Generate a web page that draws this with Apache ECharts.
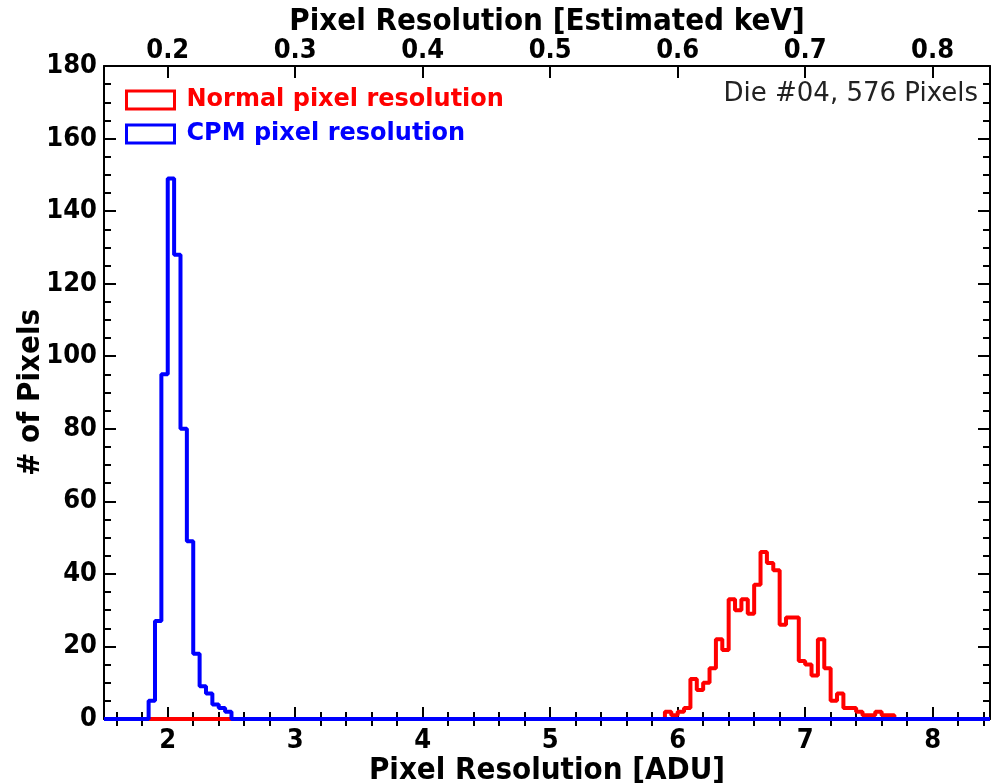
<!DOCTYPE html>
<html>
<head>
<meta charset="utf-8">
<script src="https://cdn.jsdelivr.net/npm/echarts@6/dist/echarts.min.js"></script>
<style>html,body{margin:0;padding:0;background:#fff}#chart{width:998px;height:784px}</style>
</head>
<body>
<div id="chart"></div>
<script>
// ---- data ----
const binWidth = 0.05;
const cpmStart = 1.85;
const cpmCounts = [5, 27, 95, 149, 128, 80, 49, 18, 9, 7, 4, 3, 2];
const normalStart = 5.90;
const normalCounts = [2, 1, 2, 3, 11, 8, 10, 14, 22, 19, 33, 30, 33, 29, 37, 46, 43, 41, 26, 28, 28, 16, 15, 12, 22, 14, 5, 7, 3, 3, 2, 1, 1, 2, 1, 1];
const xMin = 1.5, xMax = 8.45;
const bottomTicks = [2, 3, 4, 5, 6, 7, 8];
const topTicks = [0.2, 0.3, 0.4, 0.5, 0.6, 0.7, 0.8];
const adcToKev = 0.1;
const yTicksMax = 180, yInterval = 20;
const seriesNames = ['Normal pixel resolution', 'CPM pixel resolution'];
const annotation = 'Die #04, 576 Pixels';

function stepData(start, counts) {
  const pts = [[xMin, 0]];
  counts.forEach((c, i) => pts.push([+(start + i * binWidth).toFixed(4), c]));
  pts.push([+(start + counts.length * binWidth).toFixed(4), 0]);
  pts.push([xMax, 0]);
  return pts;
}
function minorList(lo, hi, step, majors) {
  const out = [];
  for (let v = lo; v <= hi + 1e-9; v += step) {
    const r = +v.toFixed(4);
    if (!majors.some(m => Math.abs(m - r) < 1e-6)) out.push(r);
  }
  return out;
}
const bottomMinor = minorList(1.6, 8.4, 0.2, bottomTicks);
const topMinor = minorList(0.16, 0.84, 0.02, topTicks);

const FONT = 'DejaVu Sans';
const CFONT = '"DejaVu Sans Condensed", "DejaVu Sans"';
const black = '#000';
const lab = { fontFamily: CFONT, fontWeight: 'bold', fontSize: 27, color: black };
const nameStyle = { fontFamily: CFONT, fontWeight: 'bold', fontSize: 31, color: black };

function xAx(opts) {
  return Object.assign({
    type: 'value', min: xMin, max: xMax, splitLine: { show: false }, nameMoveOverlap: false,
    axisLine: { show: true, onZero: false, lineStyle: { color: black, width: 2 } }
  }, opts);
}

const chart = echarts.init(document.getElementById('chart'), null, { renderer: 'canvas' });
chart.setOption({
  animation: false,
  backgroundColor: '#fff',
  grid: { left: 104, right: 8, top: 66, bottom: 65, containLabel: false, outerBoundsMode: 'none' },
  title: {
    text: annotation, right: 20, top: 81, padding: 0,
    textStyle: { fontFamily: FONT, fontWeight: 'normal', fontSize: 26, color: '#222' }
  },
  legend: {
    orient: 'vertical', left: 125, top: 88, itemWidth: 48, itemHeight: 18, itemGap: 10,
    padding: 0, selectedMode: false,
    textStyle: { fontFamily: FONT, fontWeight: 'bold', fontSize: 24, padding: [0, 0, 0, 7] },
    data: [
      { name: seriesNames[0], icon: 'rect', itemStyle: { color: 'transparent', borderColor: '#ff0000', borderWidth: 3 }, textStyle: { color: '#ff0000' } },
      { name: seriesNames[1], icon: 'rect', itemStyle: { color: 'transparent', borderColor: '#0000ff', borderWidth: 3 }, textStyle: { color: '#0000ff' } }
    ]
  },
  xAxis: [
    xAx({
      position: 'bottom',
      axisTick: { show: true, inside: true, length: 12, lineStyle: { color: black, width: 2 }, customValues: bottomTicks },
      axisLabel: Object.assign({ margin: 8, customValues: bottomTicks }, lab),
      name: 'Pixel Resolution [ADU]', nameLocation: 'middle', nameGap: 36, nameTextStyle: nameStyle
    }),
    xAx({
      position: 'bottom', axisLine: { show: false },
      axisTick: { show: true, inside: true, length: 7, lineStyle: { color: black, width: 2 }, customValues: bottomMinor },
      axisLabel: { show: false }
    }),
    xAx({
      position: 'top', min: xMin * adcToKev, max: xMax * adcToKev,
      axisTick: { show: true, inside: true, length: 12, lineStyle: { color: black, width: 2 }, customValues: topTicks },
      axisLabel: Object.assign({ margin: 2, customValues: topTicks, formatter: v => v.toFixed(1) }, lab),
      name: 'Pixel Resolution [Estimated keV]', nameLocation: 'middle', nameGap: 29, nameTextStyle: nameStyle
    }),
    xAx({
      position: 'top', min: xMin * adcToKev, max: xMax * adcToKev, axisLine: { show: false },
      axisTick: { show: true, inside: true, length: 7, lineStyle: { color: black, width: 2 }, customValues: topMinor },
      axisLabel: { show: false }
    })
  ],
  yAxis: [
    {
      type: 'value', min: 0, max: yTicksMax, interval: yInterval, position: 'left',
      splitLine: { show: false }, nameMoveOverlap: false,
      axisLine: { show: true, lineStyle: { color: black, width: 2 } },
      axisTick: { show: true, inside: true, length: 12, lineStyle: { color: black, width: 2 } },
      minorTick: { show: true, splitNumber: 4, length: 7, lineStyle: { color: black, width: 2 } },
      axisLabel: Object.assign({ margin: 7 }, lab),
      name: '# of Pixels', nameLocation: 'middle', nameGap: 58, nameRotate: 90, nameTextStyle: nameStyle
    },
    {
      type: 'value', min: 0, max: yTicksMax, interval: yInterval, position: 'right',
      splitLine: { show: false },
      axisLine: { show: true, lineStyle: { color: black, width: 2 } },
      axisTick: { show: true, inside: true, length: 12, lineStyle: { color: black, width: 2 } },
      minorTick: { show: true, splitNumber: 4, length: 7, lineStyle: { color: black, width: 2 } },
      axisLabel: { show: false }
    }
  ],
  series: [
    {
      name: seriesNames[0], type: 'line', step: 'end', xAxisIndex: 0, yAxisIndex: 0,
      data: stepData(normalStart, normalCounts), showSymbol: false, symbol: 'none', clip: false,
      lineStyle: { color: '#ff0000', width: 4 }, itemStyle: { color: '#ff0000' }, z: 2
    },
    {
      name: seriesNames[1], type: 'line', step: 'end', xAxisIndex: 0, yAxisIndex: 0,
      data: stepData(cpmStart, cpmCounts), showSymbol: false, symbol: 'none', clip: false,
      lineStyle: { color: '#0000ff', width: 4 }, itemStyle: { color: '#0000ff' }, z: 3
    }
  ]
});
</script>
</body>
</html>
